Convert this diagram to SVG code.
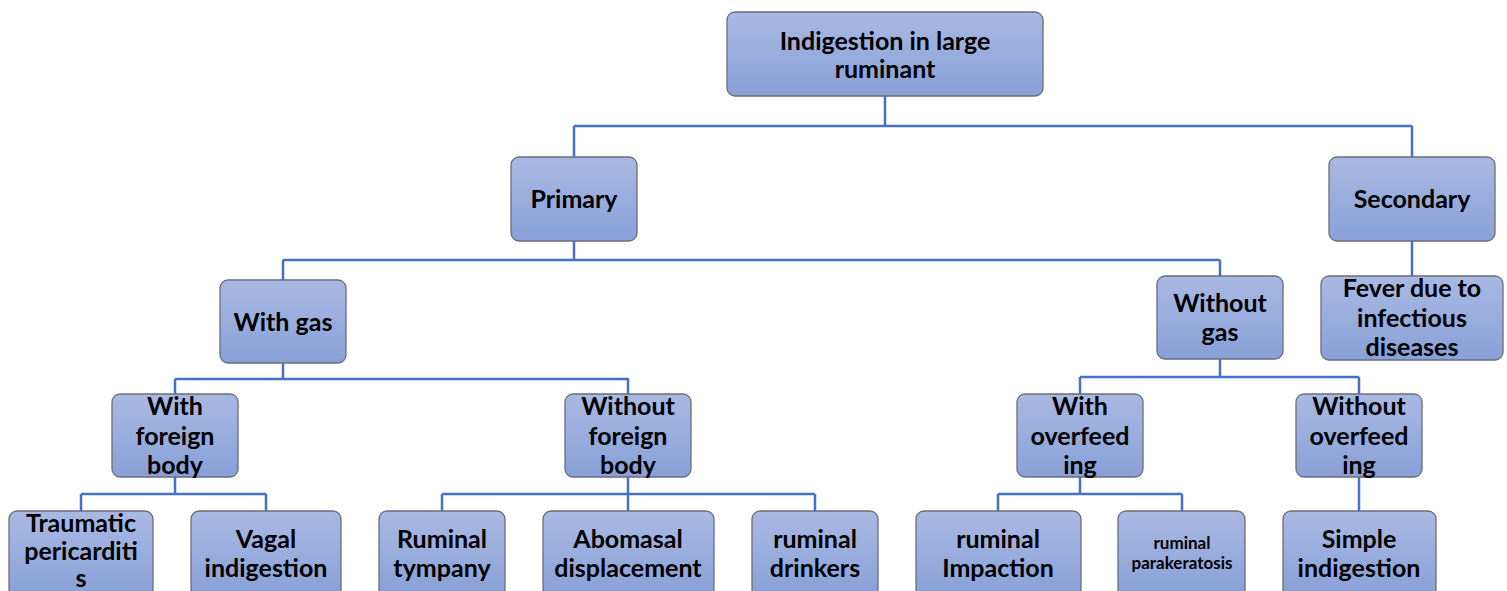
<svg xmlns="http://www.w3.org/2000/svg" width="1507" height="591" viewBox="0 0 1507 591">
<defs>
<linearGradient id="g" x1="0" y1="0" x2="0" y2="1">
<stop offset="0" stop-color="#aab9e2"/>
<stop offset="1" stop-color="#88a0d8"/>
</linearGradient>
<style>
.box{fill:url(#g);stroke:#6a6e7c;stroke-width:1.3}
.t{font-family:Lato,"Open Sans","Liberation Sans",sans-serif;font-weight:bold;font-size:25px;fill:#000;text-anchor:middle}
.s{font-size:17px}
.c{fill:none;stroke:#4472c4;stroke-width:2.5}
</style>
</defs>
<rect width="1507" height="591" fill="#fff"/>
<g id="connectors">
<path class="c" d="M885 96V126M574 126H1412M574 126V157M1412 126V157"/>
<path class="c" d="M574 241V260M283 260H1220M283 260V280M1220 260V276M1412 241V276"/>
<path class="c" d="M283 363V379M175 379H629M175 379V394M628 379V394"/>
<path class="c" d="M1220 359V377M1080 377H1359M1080 377V394M1359 377V394"/>
<path class="c" d="M175 477V494M81 494H266M81 494V511M266 494V511"/>
<path class="c" d="M628 477V494M442 494H815M442 494V511M628 494V511M815 494V511"/>
<path class="c" d="M1080 477V494M998 494H1182M998 494V511M1182 494V511"/>
<path class="c" d="M1359 477V511"/>
</g>
<g id="root"><rect class="box" x="727" y="12" width="316" height="84" rx="8"/><text class="t" x="885" y="50">Indigestion in large</text><text class="t" x="885" y="78">ruminant</text></g>
<g id="primary"><rect class="box" x="511" y="157" width="126" height="84" rx="8"/><text class="t" x="574" y="208">Primary</text></g>
<g id="secondary"><rect class="box" x="1329" y="157" width="166" height="84" rx="8"/><text class="t" x="1412" y="208">Secondary</text></g>
<g id="with-gas"><rect class="box" x="220" y="280" width="126" height="83" rx="8"/><text class="t" x="283" y="331">With gas</text></g>
<g id="without-gas"><rect class="box" x="1157" y="276" width="126" height="83" rx="8"/><text class="t" x="1220" y="312">Without</text><text class="t" x="1220" y="341">gas</text></g>
<g id="fever"><rect class="box" x="1321" y="276" width="182" height="84" rx="8"/><text class="t" x="1412" y="297">Fever due to</text><text class="t" x="1412" y="327">infectious</text><text class="t" x="1412" y="356">diseases</text></g>
<g id="with-foreign-body"><rect class="box" x="112" y="394" width="126" height="83" rx="8"/><text class="t" x="175" y="415">With</text><text class="t" x="175" y="445">foreign</text><text class="t" x="175" y="474">body</text></g>
<g id="without-foreign-body"><rect class="box" x="565" y="394" width="126" height="83" rx="8"/><text class="t" x="628" y="415">Without</text><text class="t" x="628" y="445">foreign</text><text class="t" x="628" y="474">body</text></g>
<g id="with-overfeeding"><rect class="box" x="1017" y="394" width="126" height="83" rx="8"/><text class="t" x="1080" y="415">With</text><text class="t" x="1080" y="445">overfeed</text><text class="t" x="1080" y="474">ing</text></g>
<g id="without-overfeeding"><rect class="box" x="1296" y="394" width="126" height="83" rx="8"/><text class="t" x="1359" y="415">Without</text><text class="t" x="1359" y="445">overfeed</text><text class="t" x="1359" y="474">ing</text></g>
<g id="traumatic"><rect class="box" x="9" y="511" width="144" height="86" rx="8"/><text class="t" x="81" y="532">Traumatic</text><text class="t" x="81" y="560">pericarditi</text><text class="t" x="81" y="587">s</text></g>
<g id="vagal"><rect class="box" x="191" y="511" width="150" height="86" rx="8"/><text class="t" x="266" y="548">Vagal</text><text class="t" x="266" y="577">indigestion</text></g>
<g id="tympany"><rect class="box" x="379" y="511" width="126" height="86" rx="8"/><text class="t" x="442" y="548">Ruminal</text><text class="t" x="442" y="577">tympany</text></g>
<g id="abomasal"><rect class="box" x="543" y="511" width="171" height="86" rx="8"/><text class="t" x="628" y="548">Abomasal</text><text class="t" x="628" y="577">displacement</text></g>
<g id="drinkers"><rect class="box" x="752" y="511" width="126" height="86" rx="8"/><text class="t" x="815" y="548">ruminal</text><text class="t" x="815" y="577">drinkers</text></g>
<g id="impaction"><rect class="box" x="916" y="511" width="165" height="86" rx="8"/><text class="t" x="998" y="548">ruminal</text><text class="t" x="998" y="577">Impaction</text></g>
<g id="parakeratosis"><rect class="box" x="1118" y="511" width="127" height="86" rx="8"/><text class="t s" x="1182" y="549">ruminal</text><text class="t s" x="1182" y="569">parakeratosis</text></g>
<g id="simple"><rect class="box" x="1283" y="511" width="153" height="86" rx="8"/><text class="t" x="1359" y="548">Simple</text><text class="t" x="1359" y="577">indigestion</text></g>
</svg>
